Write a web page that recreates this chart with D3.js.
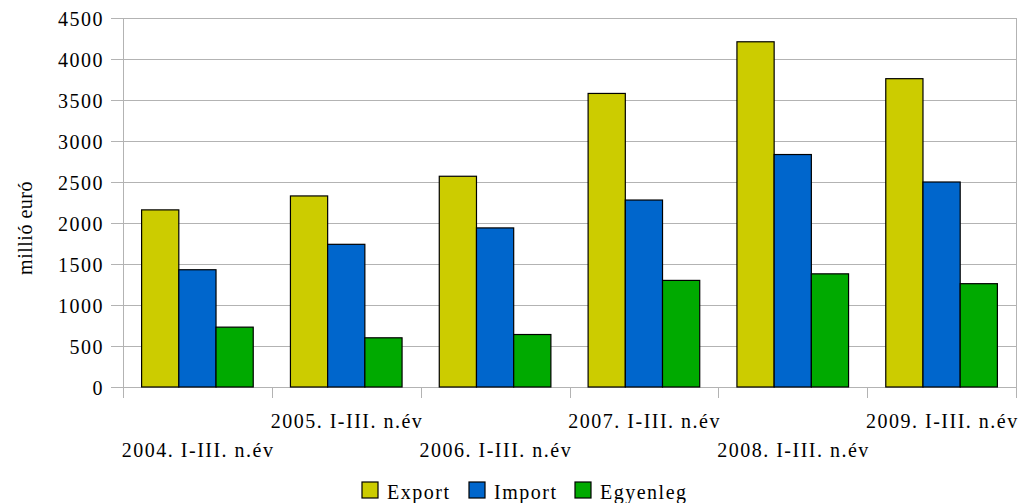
<!DOCTYPE html>
<html>
<head>
<meta charset="utf-8">
<script src="https://cdn.jsdelivr.net/npm/d3@7"></script>
<style>
  body { margin: 0; background: #fff; }
  svg { display: block; font-family: "Liberation Serif", "DejaVu Serif", serif; }
</style>
</head>
<body>
<div id="chart"></div>
<script>
// Data
const categories = ['2004. I-III. n.év', '2005. I-III. n.év', '2006. I-III. n.év',
    '2007. I-III. n.év', '2008. I-III. n.év', '2009. I-III. n.év'];
const seriesNames = ['Export', 'Import', 'Egyenleg'];
const exportValues = [2160, 2330, 2570, 3580, 4210, 3760];
const importValues = [1430, 1740, 1940, 2280, 2835, 2500];
const egyenlegValues = [730, 600, 640, 1300, 1380, 1260];
const yTicks = [0, 500, 1000, 1500, 2000, 2500, 3000, 3500, 4000, 4500];
const colors = ['#cccc00', '#0066cc', '#00aa00'];

const width = 1018, height = 503;
const margin = { top: 18, right: 2, bottom: 116, left: 123 };
const fontSize = 20, spacing = 1.5;

const svg = d3.select('#chart')
    .append('svg')
    .attr('width', width)
    .attr('height', height);

const x0 = d3.scaleBand()
    .domain(categories)
    .range([margin.left, width - margin.right])
    .paddingInner(0.25)
    .paddingOuter(0.125);

const x1 = d3.scaleBand()
    .domain(seriesNames)
    .range([0, x0.bandwidth()]);

const y = d3.scaleLinear()
    .domain([0, 4500])
    .range([height - margin.bottom, margin.top]);

const rows = categories.map((c, i) => ({
    cat: c,
    values: [exportValues[i], importValues[i], egyenlegValues[i]]
}));

// gridlines
svg.append('g')
    .selectAll('line')
    .data(yTicks)
    .join('line')
    .attr('x1', margin.left - 12)
    .attr('x2', width - margin.right)
    .attr('y1', d => Math.round(y(d)) + 0.5)
    .attr('y2', d => Math.round(y(d)) + 0.5)
    .attr('stroke', '#b3b3b3')
    .attr('stroke-width', 1);

// left axis line and right border
svg.append('line')
    .attr('x1', margin.left + 0.5).attr('x2', margin.left + 0.5)
    .attr('y1', margin.top).attr('y2', y(0) + 11)
    .attr('stroke', '#b3b3b3');
svg.append('line')
    .attr('x1', width - margin.right + 0.5).attr('x2', width - margin.right + 0.5)
    .attr('y1', margin.top).attr('y2', y(0) + 11)
    .attr('stroke', '#b3b3b3');

// category boundary ticks
const step = (width - margin.right - margin.left) / categories.length;
svg.append('g')
    .selectAll('line')
    .data(d3.range(categories.length + 1))
    .join('line')
    .attr('x1', i => Math.round(margin.left + i * step) + 0.5)
    .attr('x2', i => Math.round(margin.left + i * step) + 0.5)
    .attr('y1', y(0))
    .attr('y2', y(0) + 11)
    .attr('stroke', '#b3b3b3');

// y tick labels
svg.append('g')
    .selectAll('text')
    .data(yTicks)
    .join('text')
    .attr('x', margin.left - 19)
    .attr('y', d => y(d) + 7.5)
    .attr('text-anchor', 'end')
    .attr('font-size', fontSize)
    .attr('letter-spacing', spacing)
    .attr('fill', '#000')
    .text(d => d);

// bars
const groups = svg.append('g')
    .selectAll('g')
    .data(rows)
    .join('g')
    .attr('transform', d => `translate(${x0(d.cat)},0)`);

groups.selectAll('rect')
    .data(d => d.values.map((v, i) => ({ name: seriesNames[i], value: v, idx: i })))
    .join('rect')
    .attr('x', d => x1(d.name))
    .attr('y', d => y(d.value))
    .attr('width', x1.bandwidth())
    .attr('height', d => y(0) - y(d.value))
    .attr('fill', d => colors[d.idx])
    .attr('stroke', '#000')
    .attr('stroke-width', 1.2);

// category labels, staggered in two rows
svg.append('g')
    .selectAll('text')
    .data(categories)
    .join('text')
    .attr('x', d => x0(d) + x0.bandwidth() / 2 + spacing / 2)
    .attr('y', (d, i) => i % 2 === 0 ? 457 : 428)
    .attr('text-anchor', 'middle')
    .attr('font-size', fontSize)
    .attr('letter-spacing', spacing)
    .attr('fill', '#000')
    .text(d => d);

// y title
svg.append('text')
    .attr('transform', 'translate(32, 228) rotate(-90)')
    .attr('text-anchor', 'middle')
    .attr('font-size', fontSize)
    .attr('letter-spacing', 0.5)
    .attr('fill', '#000')
    .text('millió euró');

// legend
const legendX = [362, 469, 575];
const legend = svg.append('g')
    .selectAll('g')
    .data(seriesNames)
    .join('g')
    .attr('transform', (d, i) => `translate(${legendX[i]}, 482)`);

legend.append('rect')
    .attr('width', 16)
    .attr('height', 16)
    .attr('fill', (d, i) => colors[i])
    .attr('stroke', '#000')
    .attr('stroke-width', 1.2);

legend.append('text')
    .attr('x', 25)
    .attr('y', 17)
    .attr('font-size', fontSize)
    .attr('letter-spacing', spacing)
    .attr('fill', '#000')
    .text(d => d);
</script>
</body>
</html>
